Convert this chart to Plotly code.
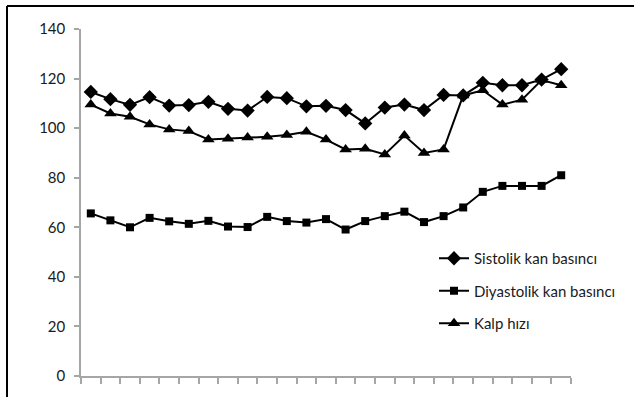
import plotly.graph_objects as go

points = list(range(1, 26))
sistolik = [114.6, 111.7, 109.4, 112.5, 109.1, 109.3, 110.6, 107.8, 107.1, 112.6,
            112.1, 108.8, 109.0, 107.3, 101.9, 108.3, 109.5, 107.3, 113.4, 113.2,
            118.3, 117.3, 117.3, 119.6, 123.8]
diyastolik = [65.6, 62.8, 60.0, 63.8, 62.4, 61.4, 62.6, 60.3, 60.1, 64.2,
              62.5, 61.9, 63.3, 59.1, 62.5, 64.5, 66.3, 62.1, 64.5, 68.0,
              74.3, 76.7, 76.7, 76.7, 81.0]
kalp = [109.5, 105.9, 104.6, 101.5, 99.5, 98.8, 95.4, 95.7, 96.2, 96.5,
        97.2, 98.5, 95.4, 91.4, 91.7, 89.4, 97.0, 90.0, 91.4, 113.2,
        115.3, 109.5, 111.5, 119.4, 117.3]
names = ["Sistolik kan basıncı", "Diyastolik kan basıncı", "Kalp hızı"]
y_ticks = [0, 20, 40, 60, 80, 100, 120, 140]

W, H = 635, 398
L, R, T, B = 81, 64, 29, 22
pw, ph = W - L - R, H - T - B

fig = go.Figure()
series = [(sistolik, "diamond", 11), (diyastolik, "square", 8), (kalp, "triangle-up", 11)]
for (vals, sym, sz), nm in zip(series, names):
    fig.add_trace(go.Scatter(
        x=[str(p) for p in points], y=vals, name=nm, legendgroup=nm,
        mode="lines+markers",
        line=dict(color="black", width=2),
        marker=dict(symbol=sym, size=sz, color="black"),
    ))

font = "Lato, 'Noto Sans', sans-serif"
fig.update_layout(
    width=W, height=H,
    margin=dict(l=L, r=R, t=T, b=B),
    paper_bgcolor="white", plot_bgcolor="white",
    font=dict(family=font, size=15, color="#1a1a1a"),
    showlegend=True,
    legend=dict(x=(434 - L) / pw, y=1 - (242 - T) / ph, xanchor="left", yanchor="top",
                bgcolor="rgba(0,0,0,0)", tracegroupgap=10,
                font=dict(family=font, size=15, color="#1a1a1a")),
    xaxis=dict(type="category", showticklabels=False, tickson="boundaries",
               ticks="outside", ticklen=6, tickcolor="#a6a6a6", tickwidth=1.5,
               showline=True, linecolor="#a6a6a6", linewidth=1.5,
               showgrid=False, zeroline=False, range=[-0.5, 24.5]),
    yaxis=dict(range=[0, 140], tickvals=y_ticks, ticks="outside", ticklen=5,
               tickcolor="#a6a6a6", tickwidth=1.5,
               showline=True, linecolor="#a6a6a6", linewidth=1.5,
               showgrid=False, zeroline=False, ticklabelstandoff=6),
)

# outer frame (left and top edges visible in the crop), kept inside the figure
fx0 = (7 - L) / pw
fx1 = (W - 1 - L) / pw
fyt = 1 + (T - 6) / ph
fyb = -(B - 1) / ph
fig.add_shape(type="line", xref="paper", yref="paper", layer="above",
              x0=fx0, x1=fx1, y0=fyt, y1=fyt, line=dict(color="black", width=2))
fig.add_shape(type="line", xref="paper", yref="paper", layer="above",
              x0=fx0, x1=fx0, y0=fyt, y1=fyb, line=dict(color="black", width=2))

fig.write_html("out.html", config={"displayModeBar": False},
               post_script="document.body.style.margin='0';")
